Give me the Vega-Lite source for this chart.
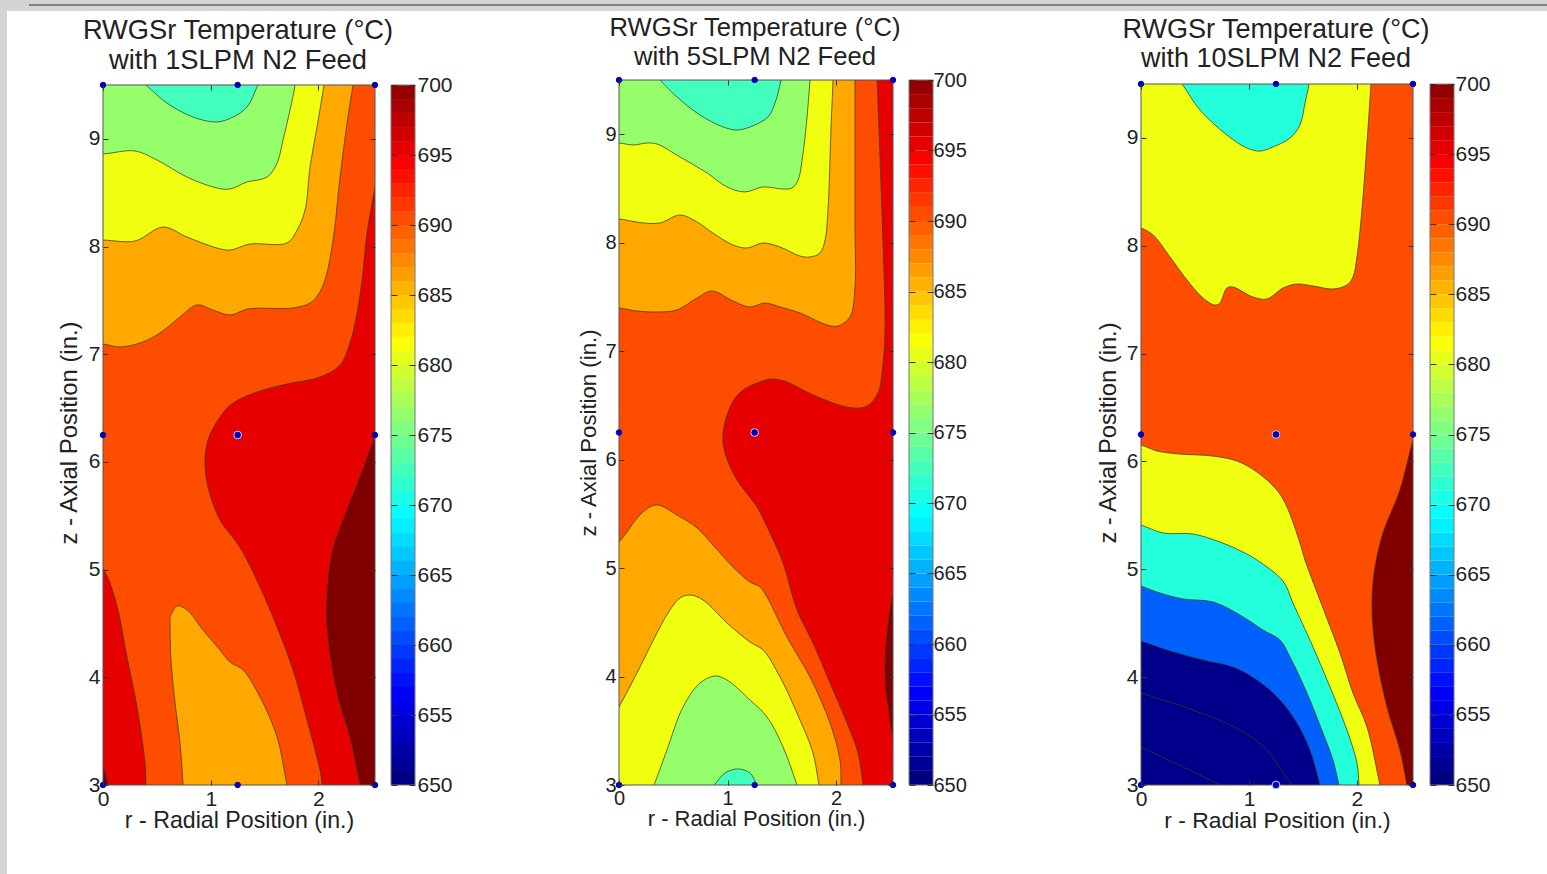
{"$schema":"https://vega.github.io/schema/vega-lite/v6.json","padding":0,"background":"white","spacing":0,"config":{"view":{"stroke":null},"font":"Liberation Sans"},
"datasets":{
"nodes":[{"panel":1,"r":0,"z":9.5,"ring":false},{"panel":1,"r":1.25,"z":9.5,"ring":false},{"panel":1,"r":2.525,"z":9.5,"ring":false},{"panel":1,"r":0,"z":6.25,"ring":false},{"panel":1,"r":1.25,"z":6.25,"ring":true},{"panel":1,"r":2.525,"z":6.25,"ring":false},{"panel":1,"r":0,"z":3,"ring":false},{"panel":1,"r":1.25,"z":3,"ring":false},{"panel":1,"r":2.525,"z":3,"ring":false},
{"panel":2,"r":0,"z":9.5,"ring":false},{"panel":2,"r":1.25,"z":9.5,"ring":false},{"panel":2,"r":2.525,"z":9.5,"ring":false},{"panel":2,"r":0,"z":6.25,"ring":false},{"panel":2,"r":1.25,"z":6.25,"ring":true},{"panel":2,"r":2.525,"z":6.25,"ring":false},{"panel":2,"r":0,"z":3,"ring":false},{"panel":2,"r":1.25,"z":3,"ring":false},{"panel":2,"r":2.525,"z":3,"ring":false},
{"panel":3,"r":0,"z":9.5,"ring":false},{"panel":3,"r":1.25,"z":9.5,"ring":false},{"panel":3,"r":2.519,"z":9.5,"ring":false},{"panel":3,"r":0,"z":6.25,"ring":false},{"panel":3,"r":1.25,"z":6.25,"ring":true},{"panel":3,"r":2.519,"z":6.25,"ring":false},{"panel":3,"r":0,"z":3,"ring":false},{"panel":3,"r":1.25,"z":3,"ring":true},{"panel":3,"r":2.519,"z":3,"ring":false}],
"bar":[{"lo":650,"hi":651},{"lo":651,"hi":652},{"lo":652,"hi":653},{"lo":653,"hi":654},{"lo":654,"hi":655},{"lo":655,"hi":656},{"lo":656,"hi":657},{"lo":657,"hi":658},{"lo":658,"hi":659},{"lo":659,"hi":660},{"lo":660,"hi":661},{"lo":661,"hi":662},{"lo":662,"hi":663},{"lo":663,"hi":664},{"lo":664,"hi":665},{"lo":665,"hi":666},{"lo":666,"hi":667},{"lo":667,"hi":668},{"lo":668,"hi":669},{"lo":669,"hi":670},{"lo":670,"hi":671},{"lo":671,"hi":672},{"lo":672,"hi":673},{"lo":673,"hi":674},{"lo":674,"hi":675},{"lo":675,"hi":676},{"lo":676,"hi":677},{"lo":677,"hi":678},{"lo":678,"hi":679},{"lo":679,"hi":680},{"lo":680,"hi":681},{"lo":681,"hi":682},{"lo":682,"hi":683},{"lo":683,"hi":684},{"lo":684,"hi":685},{"lo":685,"hi":686},{"lo":686,"hi":687},{"lo":687,"hi":688},{"lo":688,"hi":689},{"lo":689,"hi":690},{"lo":690,"hi":691},{"lo":691,"hi":692},{"lo":692,"hi":693},{"lo":693,"hi":694},{"lo":694,"hi":695},{"lo":695,"hi":696},{"lo":696,"hi":697},{"lo":697,"hi":698},{"lo":698,"hi":699},{"lo":699,"hi":700}],
"p1":[
{"p":"a0","r":0,"z":9.5,"t":690},{"p":"a0","r":2.525,"z":9.5,"t":690},{"p":"a0","r":2.525,"z":3,"t":690},{"p":"a0","r":0,"z":3,"t":690},{"p":"a0","r":0,"z":9.5,"t":690},
{"p":"a1","r":-0.3,"z":9.8,"t":685.5},{"p":"a1","r":2.368,"z":9.8,"t":685.5},{"p":"a1","r":2.321,"z":9.5,"t":685.5},{"p":"a1","r":2.266,"z":9.147,"t":685.5},{"p":"a1","r":2.201,"z":8.645,"t":685.5},{"p":"a1","r":2.136,"z":8.06,"t":685.5},{"p":"a1","r":2.061,"z":7.689,"t":685.5},{"p":"a1","r":1.996,"z":7.55,"t":685.5},{"p":"a1","r":1.922,"z":7.475,"t":685.5},{"p":"a1","r":1.764,"z":7.429,"t":685.5},{"p":"a1","r":1.346,"z":7.42,"t":685.5},{"p":"a1","r":1.179,"z":7.364,"t":685.5},{"p":"a1","r":1.021,"z":7.41,"t":685.5},{"p":"a1","r":0.873,"z":7.457,"t":685.5},{"p":"a1","r":0.715,"z":7.345,"t":685.5},{"p":"a1","r":0.529,"z":7.197,"t":685.5},{"p":"a1","r":0.344,"z":7.104,"t":685.5},{"p":"a1","r":0.158,"z":7.067,"t":685.5},{"p":"a1","r":0,"z":7.095,"t":685.5},{"p":"a1","r":-0.3,"z":7.13,"t":685.5},{"p":"a1","r":-0.3,"z":9.8,"t":685.5},
{"p":"a2","r":-0.3,"z":9.8,"t":680.5},{"p":"a2","r":2.1,"z":9.8,"t":680.5},{"p":"a2","r":2.052,"z":9.5,"t":680.5},{"p":"a2","r":1.987,"z":9.11,"t":680.5},{"p":"a2","r":1.922,"z":8.738,"t":680.5},{"p":"a2","r":1.876,"z":8.339,"t":680.5},{"p":"a2","r":1.802,"z":8.153,"t":680.5},{"p":"a2","r":1.708,"z":8.033,"t":680.5},{"p":"a2","r":1.365,"z":8.023,"t":680.5},{"p":"a2","r":1.179,"z":7.967,"t":680.5},{"p":"a2","r":1.058,"z":7.986,"t":680.5},{"p":"a2","r":0.78,"z":8.088,"t":680.5},{"p":"a2","r":0.557,"z":8.181,"t":680.5},{"p":"a2","r":0.297,"z":8.051,"t":680.5},{"p":"a2","r":0,"z":8.06,"t":680.5},{"p":"a2","r":-0.3,"z":8.06,"t":680.5},{"p":"a2","r":-0.3,"z":9.8,"t":680.5},
{"p":"a3","r":-0.3,"z":9.8,"t":676},{"p":"a3","r":1.82,"z":9.8,"t":676},{"p":"a3","r":1.783,"z":9.5,"t":676},{"p":"a3","r":1.736,"z":9.267,"t":676},{"p":"a3","r":1.671,"z":8.989,"t":676},{"p":"a3","r":1.616,"z":8.775,"t":676},{"p":"a3","r":1.523,"z":8.645,"t":676},{"p":"a3","r":1.337,"z":8.599,"t":676},{"p":"a3","r":1.179,"z":8.534,"t":676},{"p":"a3","r":1.058,"z":8.543,"t":676},{"p":"a3","r":0.78,"z":8.645,"t":676},{"p":"a3","r":0.501,"z":8.803,"t":676},{"p":"a3","r":0.297,"z":8.887,"t":676},{"p":"a3","r":0,"z":8.859,"t":676},{"p":"a3","r":-0.3,"z":8.85,"t":676},{"p":"a3","r":-0.3,"z":9.8,"t":676},
{"p":"a4","r":0.1,"z":9.76,"t":672},{"p":"a4","r":0.399,"z":9.5,"t":672},{"p":"a4","r":0.594,"z":9.332,"t":672},{"p":"a4","r":0.836,"z":9.202,"t":672},{"p":"a4","r":1.058,"z":9.156,"t":672},{"p":"a4","r":1.207,"z":9.202,"t":672},{"p":"a4","r":1.337,"z":9.295,"t":672},{"p":"a4","r":1.439,"z":9.5,"t":672},{"p":"a4","r":1.59,"z":9.8,"t":672},{"p":"a4","r":0.1,"z":9.76,"t":672},
{"p":"a5","r":2.58,"z":8.85,"t":695},{"p":"a5","r":2.525,"z":8.552,"t":695},{"p":"a5","r":2.451,"z":8.125,"t":695},{"p":"a5","r":2.405,"z":7.689,"t":695},{"p":"a5","r":2.358,"z":7.383,"t":695},{"p":"a5","r":2.293,"z":7.104,"t":695},{"p":"a5","r":2.201,"z":6.9,"t":695},{"p":"a5","r":2.015,"z":6.788,"t":695},{"p":"a5","r":1.708,"z":6.723,"t":695},{"p":"a5","r":1.43,"z":6.649,"t":695},{"p":"a5","r":1.207,"z":6.547,"t":695},{"p":"a5","r":1.086,"z":6.417,"t":695},{"p":"a5","r":0.975,"z":6.203,"t":695},{"p":"a5","r":0.947,"z":5.999,"t":695},{"p":"a5","r":0.975,"z":5.767,"t":695},{"p":"a5","r":1.086,"z":5.46,"t":695},{"p":"a5","r":1.244,"z":5.247,"t":695},{"p":"a5","r":1.337,"z":5.089,"t":695},{"p":"a5","r":1.458,"z":4.838,"t":695},{"p":"a5","r":1.616,"z":4.467,"t":695},{"p":"a5","r":1.764,"z":4.068,"t":695},{"p":"a5","r":1.894,"z":3.604,"t":695},{"p":"a5","r":2.02,"z":3.111,"t":695},{"p":"a5","r":2.033,"z":3,"t":695},{"p":"a5","r":2.05,"z":2.7,"t":695},{"p":"a5","r":2.8,"z":2.7,"t":695},{"p":"a5","r":2.58,"z":8.85,"t":695},
{"p":"a6","r":2.6,"z":6.4,"t":700},{"p":"a6","r":2.525,"z":6.231,"t":700},{"p":"a6","r":2.386,"z":5.86,"t":700},{"p":"a6","r":2.228,"z":5.46,"t":700},{"p":"a6","r":2.126,"z":5.154,"t":700},{"p":"a6","r":2.08,"z":4.746,"t":700},{"p":"a6","r":2.08,"z":4.467,"t":700},{"p":"a6","r":2.173,"z":3.854,"t":700},{"p":"a6","r":2.293,"z":3.446,"t":700},{"p":"a6","r":2.386,"z":3,"t":700},{"p":"a6","r":2.45,"z":2.7,"t":700},{"p":"a6","r":2.8,"z":2.7,"t":700},{"p":"a6","r":2.8,"z":6.4,"t":700},{"p":"a6","r":2.6,"z":6.4,"t":700},
{"p":"a7","r":-0.1,"z":5.2,"t":695},{"p":"a7","r":0,"z":5.015,"t":695},{"p":"a7","r":0.065,"z":4.876,"t":695},{"p":"a7","r":0.139,"z":4.625,"t":695},{"p":"a7","r":0.223,"z":4.188,"t":695},{"p":"a7","r":0.316,"z":3.724,"t":695},{"p":"a7","r":0.39,"z":3.204,"t":695},{"p":"a7","r":0.399,"z":3,"t":695},{"p":"a7","r":0.41,"z":2.7,"t":695},{"p":"a7","r":-0.3,"z":2.7,"t":695},{"p":"a7","r":-0.3,"z":5.2,"t":695},{"p":"a7","r":-0.1,"z":5.2,"t":695},
{"p":"a8","r":-0.1,"z":3.3,"t":700},{"p":"a8","r":0,"z":3.158,"t":700},{"p":"a8","r":0.046,"z":3,"t":700},{"p":"a8","r":0.08,"z":2.7,"t":700},{"p":"a8","r":-0.3,"z":2.7,"t":700},{"p":"a8","r":-0.3,"z":3.3,"t":700},{"p":"a8","r":-0.1,"z":3.3,"t":700},
{"p":"a9","r":0.622,"z":4.56,"t":685.5},{"p":"a9","r":0.687,"z":4.662,"t":685.5},{"p":"a9","r":0.78,"z":4.625,"t":685.5},{"p":"a9","r":0.929,"z":4.439,"t":685.5},{"p":"a9","r":1.086,"z":4.253,"t":685.5},{"p":"a9","r":1.179,"z":4.142,"t":685.5},{"p":"a9","r":1.3,"z":4.068,"t":685.5},{"p":"a9","r":1.458,"z":3.817,"t":685.5},{"p":"a9","r":1.616,"z":3.446,"t":685.5},{"p":"a9","r":1.708,"z":3,"t":685.5},{"p":"a9","r":1.77,"z":2.7,"t":685.5},{"p":"a9","r":0.76,"z":2.7,"t":685.5},{"p":"a9","r":0.743,"z":3,"t":685.5},{"p":"a9","r":0.715,"z":3.39,"t":685.5},{"p":"a9","r":0.669,"z":3.761,"t":685.5},{"p":"a9","r":0.631,"z":4.161,"t":685.5},{"p":"a9","r":0.622,"z":4.56,"t":685.5}
],
"p2":[
{"p":"b0","r":0,"z":9.5,"t":690},{"p":"b0","r":2.525,"z":9.5,"t":690},{"p":"b0","r":2.525,"z":3,"t":690},{"p":"b0","r":0,"z":3,"t":690},{"p":"b0","r":0,"z":9.5,"t":690},
{"p":"b1","r":-0.3,"z":9.8,"t":685.5},{"p":"b1","r":2.175,"z":9.8,"t":685.5},{"p":"b1","r":2.175,"z":9.5,"t":685.5},{"p":"b1","r":2.175,"z":8.145,"t":685.5},{"p":"b1","r":2.175,"z":7.592,"t":685.5},{"p":"b1","r":2.129,"z":7.315,"t":685.5},{"p":"b1","r":2.019,"z":7.232,"t":685.5},{"p":"b1","r":1.917,"z":7.241,"t":685.5},{"p":"b1","r":1.668,"z":7.352,"t":685.5},{"p":"b1","r":1.484,"z":7.407,"t":685.5},{"p":"b1","r":1.346,"z":7.444,"t":685.5},{"p":"b1","r":1.207,"z":7.407,"t":685.5},{"p":"b1","r":1.051,"z":7.462,"t":685.5},{"p":"b1","r":0.857,"z":7.555,"t":685.5},{"p":"b1","r":0.719,"z":7.49,"t":685.5},{"p":"b1","r":0.535,"z":7.38,"t":685.5},{"p":"b1","r":0.35,"z":7.361,"t":685.5},{"p":"b1","r":0.166,"z":7.37,"t":685.5},{"p":"b1","r":0,"z":7.398,"t":685.5},{"p":"b1","r":-0.3,"z":7.43,"t":685.5},{"p":"b1","r":-0.3,"z":9.8,"t":685.5},
{"p":"b2","r":-0.3,"z":9.8,"t":680.5},{"p":"b2","r":1.98,"z":9.8,"t":680.5},{"p":"b2","r":1.972,"z":9.5,"t":680.5},{"p":"b2","r":1.954,"z":9.067,"t":680.5},{"p":"b2","r":1.926,"z":8.302,"t":680.5},{"p":"b2","r":1.899,"z":8.025,"t":680.5},{"p":"b2","r":1.853,"z":7.905,"t":680.5},{"p":"b2","r":1.76,"z":7.868,"t":680.5},{"p":"b2","r":1.668,"z":7.877,"t":680.5},{"p":"b2","r":1.484,"z":7.96,"t":680.5},{"p":"b2","r":1.327,"z":7.997,"t":680.5},{"p":"b2","r":1.18,"z":7.951,"t":680.5},{"p":"b2","r":1.051,"z":7.979,"t":680.5},{"p":"b2","r":0.866,"z":8.089,"t":680.5},{"p":"b2","r":0.719,"z":8.191,"t":680.5},{"p":"b2","r":0.562,"z":8.255,"t":680.5},{"p":"b2","r":0.378,"z":8.182,"t":680.5},{"p":"b2","r":0.221,"z":8.182,"t":680.5},{"p":"b2","r":0,"z":8.219,"t":680.5},{"p":"b2","r":-0.3,"z":8.25,"t":680.5},{"p":"b2","r":-0.3,"z":9.8,"t":680.5},
{"p":"b3","r":-0.3,"z":9.8,"t":676},{"p":"b3","r":1.78,"z":9.8,"t":676},{"p":"b3","r":1.76,"z":9.5,"t":676},{"p":"b3","r":1.733,"z":9.159,"t":676},{"p":"b3","r":1.696,"z":8.827,"t":676},{"p":"b3","r":1.65,"z":8.578,"t":676},{"p":"b3","r":1.594,"z":8.504,"t":676},{"p":"b3","r":1.512,"z":8.495,"t":676},{"p":"b3","r":1.327,"z":8.514,"t":676},{"p":"b3","r":1.161,"z":8.468,"t":676},{"p":"b3","r":0.995,"z":8.514,"t":676},{"p":"b3","r":0.811,"z":8.643,"t":676},{"p":"b3","r":0.562,"z":8.79,"t":676},{"p":"b3","r":0.35,"z":8.91,"t":676},{"p":"b3","r":0.258,"z":8.919,"t":676},{"p":"b3","r":0.129,"z":8.901,"t":676},{"p":"b3","r":0,"z":8.919,"t":676},{"p":"b3","r":-0.3,"z":8.92,"t":676},{"p":"b3","r":-0.3,"z":9.8,"t":676},
{"p":"b4","r":0.1,"z":9.8,"t":672},{"p":"b4","r":0.378,"z":9.5,"t":672},{"p":"b4","r":0.535,"z":9.343,"t":672},{"p":"b4","r":0.747,"z":9.177,"t":672},{"p":"b4","r":0.959,"z":9.067,"t":672},{"p":"b4","r":1.088,"z":9.039,"t":672},{"p":"b4","r":1.207,"z":9.067,"t":672},{"p":"b4","r":1.373,"z":9.159,"t":672},{"p":"b4","r":1.438,"z":9.288,"t":672},{"p":"b4","r":1.493,"z":9.5,"t":672},{"p":"b4","r":1.55,"z":9.8,"t":672},{"p":"b4","r":0.1,"z":9.8,"t":672},
{"p":"b5","r":2.36,"z":9.8,"t":695},{"p":"b5","r":2.378,"z":9.5,"t":695},{"p":"b5","r":2.406,"z":8.763,"t":695},{"p":"b5","r":2.433,"z":7.997,"t":695},{"p":"b5","r":2.452,"z":7.223,"t":695},{"p":"b5","r":2.433,"z":6.891,"t":695},{"p":"b5","r":2.387,"z":6.614,"t":695},{"p":"b5","r":2.286,"z":6.494,"t":695},{"p":"b5","r":2.157,"z":6.476,"t":695},{"p":"b5","r":1.972,"z":6.522,"t":695},{"p":"b5","r":1.733,"z":6.623,"t":695},{"p":"b5","r":1.548,"z":6.716,"t":695},{"p":"b5","r":1.41,"z":6.743,"t":695},{"p":"b5","r":1.3,"z":6.716,"t":695},{"p":"b5","r":1.143,"z":6.642,"t":695},{"p":"b5","r":1.042,"z":6.522,"t":695},{"p":"b5","r":0.959,"z":6.245,"t":695},{"p":"b5","r":0.977,"z":6.061,"t":695},{"p":"b5","r":1.088,"z":5.812,"t":695},{"p":"b5","r":1.272,"z":5.563,"t":695},{"p":"b5","r":1.392,"z":5.323,"t":695},{"p":"b5","r":1.512,"z":5.047,"t":695},{"p":"b5","r":1.641,"z":4.614,"t":695},{"p":"b5","r":1.788,"z":4.309,"t":695},{"p":"b5","r":1.945,"z":3.94,"t":695},{"p":"b5","r":2.101,"z":3.572,"t":695},{"p":"b5","r":2.203,"z":3.295,"t":695},{"p":"b5","r":2.249,"z":3,"t":695},{"p":"b5","r":2.29,"z":2.7,"t":695},{"p":"b5","r":2.8,"z":2.7,"t":695},{"p":"b5","r":2.8,"z":9.8,"t":695},{"p":"b5","r":2.36,"z":9.8,"t":695},
{"p":"b6","r":2.6,"z":5.1,"t":700},{"p":"b6","r":2.525,"z":4.77,"t":700},{"p":"b6","r":2.47,"z":4.401,"t":700},{"p":"b6","r":2.452,"z":3.996,"t":700},{"p":"b6","r":2.498,"z":3.599,"t":700},{"p":"b6","r":2.525,"z":3.415,"t":700},{"p":"b6","r":2.6,"z":3.1,"t":700},{"p":"b6","r":2.8,"z":3.1,"t":700},{"p":"b6","r":2.8,"z":5.1,"t":700},{"p":"b6","r":2.6,"z":5.1,"t":700},
{"p":"b7","r":-0.2,"z":5.05,"t":685.5},{"p":"b7","r":0,"z":5.24,"t":685.5},{"p":"b7","r":0.221,"z":5.517,"t":685.5},{"p":"b7","r":0.35,"z":5.582,"t":685.5},{"p":"b7","r":0.535,"z":5.489,"t":685.5},{"p":"b7","r":0.719,"z":5.37,"t":685.5},{"p":"b7","r":0.866,"z":5.213,"t":685.5},{"p":"b7","r":1.051,"z":5.01,"t":685.5},{"p":"b7","r":1.207,"z":4.872,"t":685.5},{"p":"b7","r":1.3,"z":4.826,"t":685.5},{"p":"b7","r":1.364,"z":4.733,"t":685.5},{"p":"b7","r":1.548,"z":4.365,"t":685.5},{"p":"b7","r":1.76,"z":3.996,"t":685.5},{"p":"b7","r":1.945,"z":3.572,"t":685.5},{"p":"b7","r":2.037,"z":3.23,"t":685.5},{"p":"b7","r":2.046,"z":3,"t":685.5},{"p":"b7","r":2.055,"z":2.7,"t":685.5},{"p":"b7","r":-0.3,"z":2.7,"t":685.5},{"p":"b7","r":-0.3,"z":5.05,"t":685.5},{"p":"b7","r":-0.2,"z":5.05,"t":685.5},
{"p":"b8","r":-0.15,"z":3.45,"t":680.5},{"p":"b8","r":0,"z":3.719,"t":680.5},{"p":"b8","r":0.166,"z":4.033,"t":680.5},{"p":"b8","r":0.35,"z":4.401,"t":680.5},{"p":"b8","r":0.47,"z":4.614,"t":680.5},{"p":"b8","r":0.562,"z":4.724,"t":680.5},{"p":"b8","r":0.654,"z":4.752,"t":680.5},{"p":"b8","r":0.774,"z":4.706,"t":680.5},{"p":"b8","r":0.995,"z":4.494,"t":680.5},{"p":"b8","r":1.207,"z":4.318,"t":680.5},{"p":"b8","r":1.327,"z":4.245,"t":680.5},{"p":"b8","r":1.484,"z":3.996,"t":680.5},{"p":"b8","r":1.668,"z":3.599,"t":680.5},{"p":"b8","r":1.788,"z":3.295,"t":680.5},{"p":"b8","r":1.843,"z":3,"t":680.5},{"p":"b8","r":1.9,"z":2.7,"t":680.5},{"p":"b8","r":-0.3,"z":2.7,"t":680.5},{"p":"b8","r":-0.3,"z":3.45,"t":680.5},{"p":"b8","r":-0.15,"z":3.45,"t":680.5},
{"p":"b9","r":0.2,"z":2.7,"t":676},{"p":"b9","r":0.323,"z":3,"t":676},{"p":"b9","r":0.442,"z":3.323,"t":676},{"p":"b9","r":0.59,"z":3.719,"t":676},{"p":"b9","r":0.747,"z":3.94,"t":676},{"p":"b9","r":0.885,"z":4.005,"t":676},{"p":"b9","r":0.995,"z":3.968,"t":676},{"p":"b9","r":1.207,"z":3.784,"t":676},{"p":"b9","r":1.364,"z":3.627,"t":676},{"p":"b9","r":1.512,"z":3.35,"t":676},{"p":"b9","r":1.641,"z":3,"t":676},{"p":"b9","r":1.75,"z":2.7,"t":676},{"p":"b9","r":0.2,"z":2.7,"t":676},
{"p":"b10","r":0.7,"z":2.85,"t":672},{"p":"b10","r":0.876,"z":3,"t":672},{"p":"b10","r":0.977,"z":3.111,"t":672},{"p":"b10","r":1.097,"z":3.148,"t":672},{"p":"b10","r":1.207,"z":3.111,"t":672},{"p":"b10","r":1.272,"z":3,"t":672},{"p":"b10","r":1.4,"z":2.8,"t":672},{"p":"b10","r":0.7,"z":2.85,"t":672}
],
"p3":[
{"p":"c0","r":0,"z":9.5,"t":690},{"p":"c0","r":2.519,"z":9.5,"t":690},{"p":"c0","r":2.519,"z":3,"t":690},{"p":"c0","r":0,"z":3,"t":690},{"p":"c0","r":0,"z":9.5,"t":690},
{"p":"c1","r":-0.3,"z":9.8,"t":680.5},{"p":"c1","r":2.15,"z":9.8,"t":680.5},{"p":"c1","r":2.13,"z":9.5,"t":680.5},{"p":"c1","r":2.093,"z":8.953,"t":680.5},{"p":"c1","r":2.046,"z":8.331,"t":680.5},{"p":"c1","r":2,"z":7.896,"t":680.5},{"p":"c1","r":1.963,"z":7.71,"t":680.5},{"p":"c1","r":1.907,"z":7.636,"t":680.5},{"p":"c1","r":1.778,"z":7.599,"t":680.5},{"p":"c1","r":1.593,"z":7.627,"t":680.5},{"p":"c1","r":1.444,"z":7.645,"t":680.5},{"p":"c1","r":1.315,"z":7.608,"t":680.5},{"p":"c1","r":1.167,"z":7.506,"t":680.5},{"p":"c1","r":1.037,"z":7.525,"t":680.5},{"p":"c1","r":0.852,"z":7.617,"t":680.5},{"p":"c1","r":0.796,"z":7.608,"t":680.5},{"p":"c1","r":0.731,"z":7.469,"t":680.5},{"p":"c1","r":0.685,"z":7.45,"t":680.5},{"p":"c1","r":0.574,"z":7.515,"t":680.5},{"p":"c1","r":0.426,"z":7.682,"t":680.5},{"p":"c1","r":0.269,"z":7.896,"t":680.5},{"p":"c1","r":0.111,"z":8.1,"t":680.5},{"p":"c1","r":0,"z":8.164,"t":680.5},{"p":"c1","r":-0.3,"z":8.25,"t":680.5},{"p":"c1","r":-0.3,"z":9.8,"t":680.5},
{"p":"c2","r":0.15,"z":9.8,"t":670.5},{"p":"c2","r":0.38,"z":9.5,"t":670.5},{"p":"c2","r":0.546,"z":9.259,"t":670.5},{"p":"c2","r":0.796,"z":9.027,"t":670.5},{"p":"c2","r":0.981,"z":8.906,"t":670.5},{"p":"c2","r":1.102,"z":8.878,"t":670.5},{"p":"c2","r":1.222,"z":8.916,"t":670.5},{"p":"c2","r":1.38,"z":8.999,"t":670.5},{"p":"c2","r":1.472,"z":9.12,"t":670.5},{"p":"c2","r":1.519,"z":9.323,"t":670.5},{"p":"c2","r":1.556,"z":9.5,"t":670.5},{"p":"c2","r":1.6,"z":9.8,"t":670.5},{"p":"c2","r":0.15,"z":9.8,"t":670.5},
{"p":"c3","r":2.62,"z":6.5,"t":700},{"p":"c3","r":2.519,"z":6.199,"t":700},{"p":"c3","r":2.398,"z":5.735,"t":700},{"p":"c3","r":2.241,"z":5.337,"t":700},{"p":"c3","r":2.167,"z":5.021,"t":700},{"p":"c3","r":2.139,"z":4.688,"t":700},{"p":"c3","r":2.167,"z":4.28,"t":700},{"p":"c3","r":2.278,"z":3.723,"t":700},{"p":"c3","r":2.398,"z":3.325,"t":700},{"p":"c3","r":2.463,"z":3,"t":700},{"p":"c3","r":2.52,"z":2.7,"t":700},{"p":"c3","r":2.8,"z":2.7,"t":700},{"p":"c3","r":2.8,"z":6.5,"t":700},{"p":"c3","r":2.62,"z":6.5,"t":700},
{"p":"c4","r":-0.3,"z":6.2,"t":680.5},{"p":"c4","r":0,"z":6.152,"t":680.5},{"p":"c4","r":0.148,"z":6.097,"t":680.5},{"p":"c4","r":0.361,"z":6.069,"t":680.5},{"p":"c4","r":0.667,"z":6.05,"t":680.5},{"p":"c4","r":0.889,"z":6.004,"t":680.5},{"p":"c4","r":1.074,"z":5.902,"t":680.5},{"p":"c4","r":1.259,"z":5.735,"t":680.5},{"p":"c4","r":1.352,"z":5.578,"t":680.5},{"p":"c4","r":1.472,"z":5.244,"t":680.5},{"p":"c4","r":1.519,"z":5.086,"t":680.5},{"p":"c4","r":1.657,"z":4.715,"t":680.5},{"p":"c4","r":1.843,"z":4.224,"t":680.5},{"p":"c4","r":1.963,"z":3.853,"t":680.5},{"p":"c4","r":2.093,"z":3.538,"t":680.5},{"p":"c4","r":2.213,"z":3,"t":680.5},{"p":"c4","r":2.28,"z":2.7,"t":680.5},{"p":"c4","r":-0.3,"z":2.7,"t":680.5},{"p":"c4","r":-0.3,"z":6.2,"t":680.5},
{"p":"c5","r":-0.3,"z":5.5,"t":670.5},{"p":"c5","r":0,"z":5.411,"t":670.5},{"p":"c5","r":0.204,"z":5.337,"t":670.5},{"p":"c5","r":0.481,"z":5.327,"t":670.5},{"p":"c5","r":0.731,"z":5.253,"t":670.5},{"p":"c5","r":0.944,"z":5.16,"t":670.5},{"p":"c5","r":1.074,"z":5.086,"t":670.5},{"p":"c5","r":1.315,"z":4.891,"t":670.5},{"p":"c5","r":1.407,"z":4.688,"t":670.5},{"p":"c5","r":1.593,"z":4.28,"t":670.5},{"p":"c5","r":1.75,"z":3.909,"t":670.5},{"p":"c5","r":1.907,"z":3.51,"t":670.5},{"p":"c5","r":2,"z":3.204,"t":670.5},{"p":"c5","r":2.019,"z":3,"t":670.5},{"p":"c5","r":2.04,"z":2.7,"t":670.5},{"p":"c5","r":-0.3,"z":2.7,"t":670.5},{"p":"c5","r":-0.3,"z":5.5,"t":670.5},
{"p":"c6","r":-0.3,"z":4.95,"t":661},{"p":"c6","r":0,"z":4.845,"t":661},{"p":"c6","r":0.176,"z":4.78,"t":661},{"p":"c6","r":0.389,"z":4.725,"t":661},{"p":"c6","r":0.667,"z":4.697,"t":661},{"p":"c6","r":0.917,"z":4.576,"t":661},{"p":"c6","r":1.13,"z":4.437,"t":661},{"p":"c6","r":1.287,"z":4.344,"t":661},{"p":"c6","r":1.38,"z":4.187,"t":661},{"p":"c6","r":1.537,"z":3.853,"t":661},{"p":"c6","r":1.685,"z":3.482,"t":661},{"p":"c6","r":1.778,"z":3.232,"t":661},{"p":"c6","r":1.833,"z":3,"t":661},{"p":"c6","r":1.9,"z":2.7,"t":661},{"p":"c6","r":-0.3,"z":2.7,"t":661},{"p":"c6","r":-0.3,"z":4.95,"t":661},
{"p":"c7","r":-0.3,"z":4.43,"t":650.5},{"p":"c7","r":0,"z":4.335,"t":650.5},{"p":"c7","r":0.241,"z":4.252,"t":650.5},{"p":"c7","r":0.574,"z":4.159,"t":650.5},{"p":"c7","r":0.852,"z":4.094,"t":650.5},{"p":"c7","r":1.074,"z":3.974,"t":650.5},{"p":"c7","r":1.287,"z":3.788,"t":650.5},{"p":"c7","r":1.444,"z":3.575,"t":650.5},{"p":"c7","r":1.565,"z":3.325,"t":650.5},{"p":"c7","r":1.657,"z":3,"t":650.5},{"p":"c7","r":1.73,"z":2.7,"t":650.5},{"p":"c7","r":-0.3,"z":2.7,"t":650.5},{"p":"c7","r":-0.3,"z":4.43,"t":650.5},
{"p":"c8","r":-0.3,"z":3.95,"t":650.5},{"p":"c8","r":0,"z":3.853,"t":650.5},{"p":"c8","r":0.481,"z":3.695,"t":650.5},{"p":"c8","r":0.917,"z":3.51,"t":650.5},{"p":"c8","r":1.167,"z":3.325,"t":650.5},{"p":"c8","r":1.315,"z":3.111,"t":650.5},{"p":"c8","r":1.398,"z":3,"t":650.5},{"p":"c8","r":1.6,"z":2.7,"t":650.5},{"p":"c8","r":-0.3,"z":2.7,"t":650.5},{"p":"c8","r":-0.3,"z":3.95,"t":650.5},
{"p":"c9","r":-0.3,"z":3.5,"t":650.5},{"p":"c9","r":0,"z":3.352,"t":650.5},{"p":"c9","r":0.389,"z":3.167,"t":650.5},{"p":"c9","r":0.731,"z":3,"t":650.5},{"p":"c9","r":1,"z":2.85,"t":650.5},{"p":"c9","r":1,"z":2.7,"t":650.5},{"p":"c9","r":-0.3,"z":2.7,"t":650.5},{"p":"c9","r":-0.3,"z":3.5,"t":650.5}
]
},
"hconcat":[
{"width":7,"height":874,"data":{"values":[{}]},"mark":{"type":"rect","fill":"#d4d4d4"},"encoding":{}},
{"spacing":0,"vconcat":[
{"width":1540,"height":4,"data":{"values":[{}]},"mark":{"type":"rect","fill":"#d4d4d4"},"encoding":{}},
{"spacing":0,"hconcat":[{"width":22,"height":2,"data":{"values":[{}]},"mark":{"type":"rect","fill":"#d4d4d4"},"encoding":{}},{"width":1518,"height":2,"data":{"values":[{}]},"mark":{"type":"rect","fill":"#808080"},"encoding":{}}]},
{"width":1540,"height":5,"data":{"values":[{}]},"mark":{"type":"rect","fill":"#d4d4d4"},"encoding":{}},
{"width":1540,"height":4,"data":{"values":[{}]},"mark":{"type":"rect","fill":"white"},"encoding":{}},
{"spacing":0,"bounds":"flush","hconcat":[
{"width":96,"height":705,"data":{"values":[{}]},"mark":{"type":"rect","opacity":0},"encoding":{}},
{"width":272,"height":705,"title":{"text":["RWGSr Temperature (°C)","with 1SLPM N2 Feed"],"fontSize":27.3,"font":"Liberation Sans","fontWeight":"normal","color":"#222","lineHeight":30,"offset":6,"dx":-1},"resolve":{"axis":{"x":"independent","y":"independent"}},"layer":[
{"data":{"name":"p1"},"mark":{"type":"line","interpolate":"catmull-rom","clip":true,"stroke":"#3a3a20","strokeWidth":1,"strokeOpacity":0.75},"encoding":{"x":{"field":"r","type":"quantitative","scale":{"domain":[0,2.525],"nice":false,"zero":false},"axis":{"values":[0,1,2],"format":"d","title":"r - Radial Position (in.)","domain":false,"grid":false,"labelFlush":false,"tickSize":-5,"tickColor":"#333","labelFontSize":21,"labelColor":"#222","labelPadding":8,"titleFontSize":23.2,"titleFontWeight":"normal","titleColor":"#222","titlePadding":0,"zindex":1}},"y":{"field":"z","type":"quantitative","scale":{"domain":[3,9.546],"nice":false,"zero":false},"axis":{"values":[3,4,5,6,7,8,9],"format":"d","title":"z - Axial Position (in.)","domain":false,"grid":false,"labelFlush":false,"tickSize":-5,"tickColor":"#333","labelFontSize":21,"labelColor":"#222","labelPadding":8,"titleFontSize":23.9,"titleFontWeight":"normal","titleColor":"#222","titlePadding":7,"zindex":1}},"fill":{"field":"t","type":"quantitative","legend":null,"scale":{"domain":[650,656.25,668.75,681.25,693.75,700],"range":["#000080","#0000ff","#00ffff","#ffff00","#ff0000","#800000"],"interpolate":"rgb"}},"detail":{"field":"p"},"order":{"value":null}}},
{"data":{"values":[{"r0":0,"r1":2.525,"z0":9.5,"z1":9.546}]},"mark":{"type":"rect","fill":"white"},"encoding":{"x":{"field":"r0","type":"quantitative","axis":null},"x2":{"field":"r1"},"y":{"field":"z0","type":"quantitative","axis":null},"y2":{"field":"z1"}}},
{"data":{"name":"p1"},"transform":[{"filter":"datum.p=='a0'"}],"mark":{"type":"line","stroke":"#555","strokeWidth":1},"encoding":{"x":{"field":"r","type":"quantitative","axis":null},"y":{"field":"z","type":"quantitative","axis":null},"order":{"value":null}}},
{"data":{"name":"nodes"},"transform":[{"filter":"datum.panel==1"}],"mark":{"type":"point","filled":true,"fill":"#0000b8","opacity":1,"strokeWidth":1},"encoding":{"x":{"field":"r","type":"quantitative","axis":{"orient":"top","offset":-5,"values":[0,1,2],"labels":false,"title":null,"domain":false,"grid":false,"tickSize":-5,"tickColor":"#333","zindex":1}},"y":{"field":"z","type":"quantitative","axis":{"orient":"right","values":[3,4,5,6,7,8,9],"labels":false,"title":null,"domain":false,"grid":false,"tickSize":-5,"tickColor":"#333","zindex":1}},"size":{"condition":{"test":"datum.ring","value":60},"value":30},"stroke":{"condition":{"test":"datum.ring","value":"#c8d0ff"},"value":"#0000b8"}}}
]},
{"width":16,"height":705,"data":{"values":[{}]},"mark":{"type":"rect","opacity":0},"encoding":{}},
{"width":24,"height":705,"resolve":{"axis":{"y":"independent"}},"layer":[
{"data":{"name":"bar"},"mark":"rect","encoding":{"x":{"datum":0,"type":"quantitative","scale":{"domain":[0,1]},"axis":null},"x2":{"datum":1},"y":{"field":"lo","type":"quantitative","scale":{"domain":[650,700.36],"nice":false,"zero":false},"axis":{"orient":"right","values":[650,655,660,665,670,675,680,685,690,695,700],"title":null,"domain":false,"grid":false,"labelFlush":false,"tickSize":-6,"tickColor":"#333","labelFontSize":21,"labelColor":"#222","labelPadding":8,"zindex":1}},"y2":{"field":"hi"},"fill":{"field":"lo","type":"quantitative","legend":null,"scale":{"domain":[650,656.25,668.75,681.25,693.75,700],"range":["#000080","#0000ff","#00ffff","#ffff00","#ff0000","#800000"],"interpolate":"rgb"}}}},
{"data":{"values":[{"lo":650,"hi":700}]},"mark":{"type":"rect","fill":"transparent","stroke":"#777","strokeWidth":1},"encoding":{"x":{"datum":0,"type":"quantitative","axis":null},"x2":{"datum":1},"y":{"field":"lo","type":"quantitative","axis":{"orient":"left","values":[650,655,660,665,670,675,680,685,690,695,700],"labels":false,"title":null,"domain":false,"grid":false,"tickSize":-6,"tickColor":"#333","zindex":1}},"y2":{"field":"hi"}}}
]},
{"width":204,"height":705,"data":{"values":[{}]},"mark":{"type":"rect","opacity":0},"encoding":{}},
{"width":274,"height":705,"title":{"text":["RWGSr Temperature (°C)","with 5SLPM N2 Feed"],"fontSize":25.6,"font":"Liberation Sans","fontWeight":"normal","color":"#222","lineHeight":29,"offset":5,"dx":-1},"resolve":{"axis":{"x":"independent","y":"independent"}},"layer":[
{"data":{"name":"p2"},"mark":{"type":"line","interpolate":"catmull-rom","clip":true,"stroke":"#3a3a20","strokeWidth":1,"strokeOpacity":0.75},"encoding":{"x":{"field":"r","type":"quantitative","scale":{"domain":[0,2.525],"nice":false,"zero":false},"axis":{"values":[0,1,2],"format":"d","title":"r - Radial Position (in.)","domain":false,"grid":false,"labelFlush":false,"tickSize":-5,"tickColor":"#333","labelFontSize":20,"labelColor":"#222","labelPadding":8,"titleFontSize":22,"titleFontWeight":"normal","titleColor":"#222","titlePadding":0,"zindex":1}},"y":{"field":"z","type":"quantitative","scale":{"domain":[3,9.5],"nice":false,"zero":false},"axis":{"values":[3,4,5,6,7,8,9],"format":"d","title":"z - Axial Position (in.)","domain":false,"grid":false,"labelFlush":false,"tickSize":-5,"tickColor":"#333","labelFontSize":20,"labelColor":"#222","labelPadding":8,"titleFontSize":22.2,"titleFontWeight":"normal","titleColor":"#222","titlePadding":4,"zindex":1}},"fill":{"field":"t","type":"quantitative","legend":null,"scale":{"domain":[650,656.25,668.75,681.25,693.75,700],"range":["#000080","#0000ff","#00ffff","#ffff00","#ff0000","#800000"],"interpolate":"rgb"}},"detail":{"field":"p"},"order":{"value":null}}},
{"data":{"name":"p2"},"transform":[{"filter":"datum.p=='b0'"}],"mark":{"type":"line","stroke":"#555","strokeWidth":1},"encoding":{"x":{"field":"r","type":"quantitative","axis":null},"y":{"field":"z","type":"quantitative","axis":null},"order":{"value":null}}},
{"data":{"name":"nodes"},"transform":[{"filter":"datum.panel==2"}],"mark":{"type":"point","filled":true,"fill":"#0000b8","opacity":1,"strokeWidth":1},"encoding":{"x":{"field":"r","type":"quantitative","axis":{"orient":"top","values":[0,1,2],"labels":false,"title":null,"domain":false,"grid":false,"tickSize":-5,"tickColor":"#333","zindex":1}},"y":{"field":"z","type":"quantitative","axis":{"orient":"right","values":[3,4,5,6,7,8,9],"labels":false,"title":null,"domain":false,"grid":false,"tickSize":-5,"tickColor":"#333","zindex":1}},"size":{"condition":{"test":"datum.ring","value":60},"value":30},"stroke":{"condition":{"test":"datum.ring","value":"#c8d0ff"},"value":"#0000b8"}}}
]},
{"width":16,"height":705,"data":{"values":[{}]},"mark":{"type":"rect","opacity":0},"encoding":{}},
{"width":24,"height":705,"resolve":{"axis":{"y":"independent"}},"layer":[
{"data":{"name":"bar"},"mark":"rect","encoding":{"x":{"datum":0,"type":"quantitative","scale":{"domain":[0,1]},"axis":null},"x2":{"datum":1},"y":{"field":"lo","type":"quantitative","scale":{"domain":[650,700],"nice":false,"zero":false},"axis":{"orient":"right","values":[650,655,660,665,670,675,680,685,690,695,700],"title":null,"domain":false,"grid":false,"labelFlush":false,"tickSize":-6,"tickColor":"#333","labelFontSize":20,"labelColor":"#222","labelPadding":6,"zindex":1}},"y2":{"field":"hi"},"fill":{"field":"lo","type":"quantitative","legend":null,"scale":{"domain":[650,656.25,668.75,681.25,693.75,700],"range":["#000080","#0000ff","#00ffff","#ffff00","#ff0000","#800000"],"interpolate":"rgb"}}}},
{"data":{"values":[{"lo":650,"hi":700}]},"mark":{"type":"rect","fill":"transparent","stroke":"#777","strokeWidth":1},"encoding":{"x":{"datum":0,"type":"quantitative","axis":null},"x2":{"datum":1},"y":{"field":"lo","type":"quantitative","axis":{"orient":"left","values":[650,655,660,665,670,675,680,685,690,695,700],"labels":false,"title":null,"domain":false,"grid":false,"tickSize":-6,"tickColor":"#333","zindex":1}},"y2":{"field":"hi"}}}
]},
{"width":208,"height":705,"data":{"values":[{}]},"mark":{"type":"rect","opacity":0},"encoding":{}},
{"width":272,"height":705,"title":{"text":["RWGSr Temperature (°C)","with 10SLPM N2 Feed"],"fontSize":27,"font":"Liberation Sans","fontWeight":"normal","color":"#222","lineHeight":29,"offset":6,"dx":-1},"resolve":{"axis":{"x":"independent","y":"independent"}},"layer":[
{"data":{"name":"p3"},"mark":{"type":"line","interpolate":"catmull-rom","clip":true,"stroke":"#3a3a20","strokeWidth":1,"strokeOpacity":0.75},"encoding":{"x":{"field":"r","type":"quantitative","scale":{"domain":[0,2.519],"nice":false,"zero":false},"axis":{"values":[0,1,2],"format":"d","title":"r - Radial Position (in.)","domain":false,"grid":false,"labelFlush":false,"tickSize":-5,"tickColor":"#333","labelFontSize":21,"labelColor":"#222","labelPadding":8,"titleFontSize":22.9,"titleFontWeight":"normal","titleColor":"#222","titlePadding":0,"zindex":1}},"y":{"field":"z","type":"quantitative","scale":{"domain":[3,9.537],"nice":false,"zero":false},"axis":{"values":[3,4,5,6,7,8,9],"format":"d","title":"z - Axial Position (in.)","domain":false,"grid":false,"labelFlush":false,"tickSize":-5,"tickColor":"#333","labelFontSize":21,"labelColor":"#222","labelPadding":8,"titleFontSize":23.7,"titleFontWeight":"normal","titleColor":"#222","titlePadding":6,"zindex":1}},"fill":{"field":"t","type":"quantitative","legend":null,"scale":{"domain":[650,656.25,668.75,681.25,693.75,700],"range":["#000080","#0000ff","#00ffff","#ffff00","#ff0000","#800000"],"interpolate":"rgb"}},"detail":{"field":"p"},"order":{"value":null}}},
{"data":{"values":[{"r0":0,"r1":2.519,"z0":9.5,"z1":9.537}]},"mark":{"type":"rect","fill":"white"},"encoding":{"x":{"field":"r0","type":"quantitative","axis":null},"x2":{"field":"r1"},"y":{"field":"z0","type":"quantitative","axis":null},"y2":{"field":"z1"}}},
{"data":{"name":"p3"},"transform":[{"filter":"datum.p=='c0'"}],"mark":{"type":"line","stroke":"#555","strokeWidth":1},"encoding":{"x":{"field":"r","type":"quantitative","axis":null},"y":{"field":"z","type":"quantitative","axis":null},"order":{"value":null}}},
{"data":{"name":"nodes"},"transform":[{"filter":"datum.panel==3"}],"mark":{"type":"point","filled":true,"fill":"#0000b8","opacity":1,"strokeWidth":1},"encoding":{"x":{"field":"r","type":"quantitative","axis":{"orient":"top","offset":-4,"values":[0,1,2],"labels":false,"title":null,"domain":false,"grid":false,"tickSize":-5,"tickColor":"#333","zindex":1}},"y":{"field":"z","type":"quantitative","axis":{"orient":"right","values":[3,4,5,6,7,8,9],"labels":false,"title":null,"domain":false,"grid":false,"tickSize":-5,"tickColor":"#333","zindex":1}},"size":{"condition":{"test":"datum.ring","value":60},"value":30},"stroke":{"condition":{"test":"datum.ring","value":"#c8d0ff"},"value":"#0000b8"}}}
]},
{"width":17,"height":705,"data":{"values":[{}]},"mark":{"type":"rect","opacity":0},"encoding":{}},
{"width":24,"height":705,"resolve":{"axis":{"y":"independent"}},"layer":[
{"data":{"name":"bar"},"mark":"rect","encoding":{"x":{"datum":0,"type":"quantitative","scale":{"domain":[0,1]},"axis":null},"x2":{"datum":1},"y":{"field":"lo","type":"quantitative","scale":{"domain":[650,700.29],"nice":false,"zero":false},"axis":{"orient":"right","values":[650,655,660,665,670,675,680,685,690,695,700],"title":null,"domain":false,"grid":false,"labelFlush":false,"tickSize":-6,"tickColor":"#333","labelFontSize":21,"labelColor":"#222","labelPadding":7,"zindex":1}},"y2":{"field":"hi"},"fill":{"field":"lo","type":"quantitative","legend":null,"scale":{"domain":[650,656.25,668.75,681.25,693.75,700],"range":["#000080","#0000ff","#00ffff","#ffff00","#ff0000","#800000"],"interpolate":"rgb"}}}},
{"data":{"values":[{"lo":650,"hi":700}]},"mark":{"type":"rect","fill":"transparent","stroke":"#777","strokeWidth":1},"encoding":{"x":{"datum":0,"type":"quantitative","axis":null},"x2":{"datum":1},"y":{"field":"lo","type":"quantitative","axis":{"orient":"left","values":[650,655,660,665,670,675,680,685,690,695,700],"labels":false,"title":null,"domain":false,"grid":false,"tickSize":-6,"tickColor":"#333","zindex":1}},"y2":{"field":"hi"}}}
]}
]}
]}
]}
